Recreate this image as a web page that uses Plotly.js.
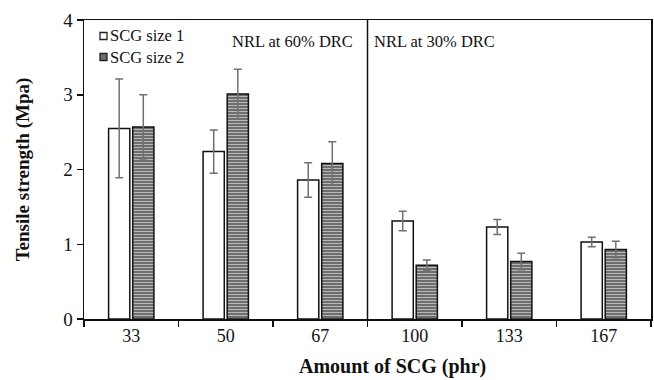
<!DOCTYPE html>
<html><head><meta charset="utf-8">
<script src="https://cdn.plot.ly/plotly-3.0.1.min.js"></script>
<style>html,body{margin:0;padding:0;background:#fff}#chart{width:654px;height:380px}</style>
</head><body><div id="chart"></div>
<script>
const categories = ['33','50','67','100','133','167'];
const seriesNames = ['SCG size 1', 'SCG size 2'];
const size1 = [2.55, 2.24, 1.86, 1.31, 1.23, 1.03];
const size1Err = [0.66, 0.29, 0.23, 0.13, 0.10, 0.065];
const size2 = [2.57, 3.01, 2.08, 0.72, 0.77, 0.93];
const size2Err = [0.43, 0.33, 0.29, 0.07, 0.11, 0.11];
const yTicks = [0, 1, 2, 3, 4];
const regionLabels = ['NRL at 60% DRC', 'NRL at 30% DRC'];

const font = 'Liberation Serif, Times New Roman, serif';
const W = 654, H = 380, M = {l:84, r:3, t:20, b:61};
const pw = W - M.l - M.r, ph = H - M.t - M.b;
const px = x => (x - M.l) / pw;
const py = y => (H - M.b - y) / ph;

const traces = [
  {type:'bar', name:seriesNames[0], x:categories, y:size1, showlegend:false,
   marker:{color:'#ffffff', line:{color:'#111', width:1.5}},
   error_y:{type:'data', array:size1Err, color:'#707070', thickness:1.5, width:4}},
  {type:'bar', name:seriesNames[1], x:categories, y:size2, showlegend:false,
   marker:{color:'#6e6e6e', line:{color:'#111', width:1.5},
     pattern:{shape:'-', fgcolor:'#b8b8b8', bgcolor:'#6e6e6e', size:3, solidity:0.35}},
   error_y:{type:'data', array:size2Err, color:'#707070', thickness:1.5, width:4}}
];
const legendShapes = [
  {type:'rect', xref:'paper', yref:'paper', x0:px(100), x1:px(107), y0:py(39.5), y1:py(32.5),
   fillcolor:'#fff', line:{color:'#222', width:1.3}},
  {type:'rect', xref:'paper', yref:'paper', x0:px(100), x1:px(107), y0:py(60.5), y1:py(53.5),
   fillcolor:'#6e6e6e', line:{color:'#222', width:1.3}}
];
const legendTexts = seriesNames.map((t, i) => ({
  text:t, xref:'paper', yref:'paper', x:px(108), y:py(i ? 57 : 36), xanchor:'left', yanchor:'middle',
  showarrow:false, font:{family:font, size:16.5}
}));
const layout = {
  width:W, height:H, margin:M,
  paper_bgcolor:'#fff', plot_bgcolor:'#fff',
  font:{family:font, color:'#111', size:17},
  barmode:'group', bargap:0.49, bargroupgap:0.12,
  showlegend:false,
  xaxis:{type:'category', showline:true, mirror:true, linecolor:'#111', linewidth:1.5,
    ticks:'outside', tickson:'boundaries', ticklen:6, tickcolor:'#111', tickwidth:1.5,
    tickfont:{family:font, size:18}, showgrid:false, zeroline:false},
  yaxis:{range:[0,4], tickvals:yTicks, showline:true, mirror:true, linecolor:'#111', linewidth:1.5,
    ticks:'outside', ticklen:6, tickcolor:'#111', tickwidth:1.5, showgrid:false, zeroline:false,
    tickfont:{family:font, size:19},
    title:{text:'<b>Tensile strength (Mpa)</b>', font:{family:font, size:19}, standoff:28}},
  shapes:[{type:'line', xref:'x', yref:'paper', x0:2.5, x1:2.5, y0:0, y1:1, line:{color:'#111', width:1.5}}].concat(legendShapes),
  annotations:[
    {text:regionLabels[0], xref:'paper', yref:'paper', x:px(355), y:py(42), xanchor:'right', yanchor:'middle', showarrow:false, font:{family:font, size:16.5}},
    {text:regionLabels[1], xref:'paper', yref:'paper', x:px(372), y:py(42), xanchor:'left', yanchor:'middle', showarrow:false, font:{family:font, size:16.5}},
    {text:'<b>Amount of SCG (phr)</b>', xref:'paper', yref:'paper', x:px(392), y:py(366), xanchor:'center', yanchor:'middle', showarrow:false, font:{family:font, size:20}}
  ].concat(legendTexts)
};
Plotly.newPlot('chart', traces, layout, {staticPlot:true, displayModeBar:false});
</script></body></html>
